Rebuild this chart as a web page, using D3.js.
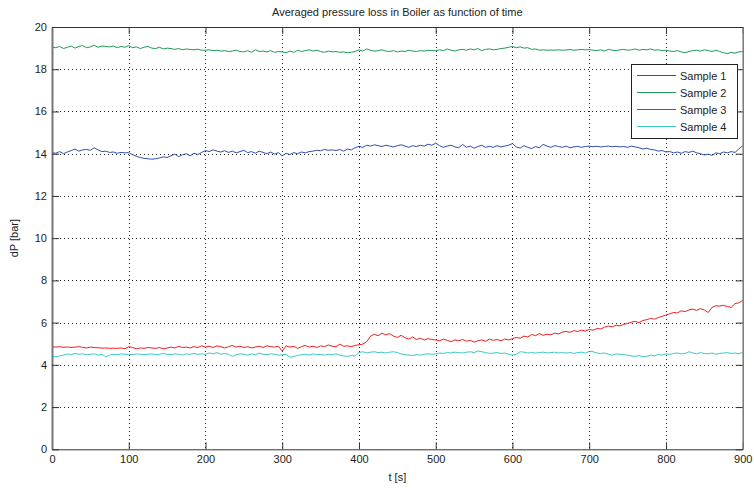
<!DOCTYPE html>
<html><head><meta charset="utf-8">
<script src="https://cdn.jsdelivr.net/npm/d3@7"></script>
<style>body{margin:0;background:#fff}svg{display:block}text{font-family:"Liberation Sans",Arial,sans-serif}</style>
</head><body>
<svg id="c" width="754" height="488"></svg>
<script>
const title = "Averaged pressure loss in Boiler as function of time";
const xLabel = "t [s]";
const yLabel = "dP [bar]";
const xTicks = [0,100,200,300,400,500,600,700,800,900];
const yTicks = [0,2,4,6,8,10,12,14,16,18,20];
const seriesNames = ["Sample 1","Sample 2","Sample 3","Sample 4"];
const timeStep = 5; // seconds between samples, t = 0..900
const sample1 = [14.05,14.02,14.10,14.00,14.08,14.15,14.22,14.12,14.18,14.20,14.16,14.28,14.18,14.10,14.12,14.06,14.08,14.02,14.06,14.04,
14.05,13.95,13.88,13.82,13.78,13.76,13.74,13.76,13.80,13.85,13.82,13.90,13.98,13.86,13.95,14.00,13.90,14.02,13.96,14.06,
14.15,14.10,14.18,14.12,14.08,14.14,14.06,14.12,14.04,14.10,14.16,14.05,14.10,14.02,14.12,14.06,14.00,14.08,13.98,14.05,
13.90,14.02,13.96,14.05,14.00,14.08,14.04,14.10,14.12,14.16,14.14,14.20,14.16,14.18,14.15,14.20,14.12,14.22,14.18,14.28,
14.35,14.30,14.40,14.36,14.42,14.38,14.34,14.40,14.36,14.32,14.38,14.42,14.36,14.30,14.38,14.34,14.40,14.36,14.45,14.40,
14.50,14.38,14.30,14.36,14.40,14.32,14.28,14.44,14.30,14.36,14.26,14.34,14.40,14.30,14.35,14.30,14.38,14.32,14.36,14.40,
14.48,14.32,14.26,14.38,14.30,14.24,14.34,14.28,14.44,14.36,14.30,14.38,14.34,14.30,14.36,14.28,14.32,14.35,14.30,14.34,
14.36,14.33,14.35,14.32,14.34,14.36,14.33,14.35,14.32,14.34,14.30,14.36,14.32,14.28,14.22,14.26,14.20,14.18,14.12,14.15,
14.08,14.10,14.04,14.08,14.02,14.10,14.06,14.12,14.04,14.00,13.94,13.98,13.92,14.04,14.00,14.08,14.04,14.10,14.06,14.22,14.38];
const sample2 = [19.05,19.02,19.08,18.98,19.04,19.10,19.00,19.08,19.12,19.02,19.06,19.14,19.04,19.10,19.08,19.06,19.10,19.02,19.08,19.04,
19.12,19.02,19.06,18.98,19.04,19.08,19.00,18.98,19.04,18.96,19.00,18.98,18.94,18.98,18.92,18.96,18.94,18.92,18.95,18.90,
18.90,18.92,18.88,18.90,18.86,18.88,18.84,18.86,18.90,18.84,18.82,18.88,18.80,18.92,18.84,18.86,18.82,18.88,18.80,18.84,
18.82,18.78,18.86,18.80,18.90,18.84,18.88,18.92,18.86,18.90,18.84,18.80,18.86,18.82,18.84,18.80,18.82,18.78,18.80,18.84,
18.92,18.86,18.96,18.90,18.86,18.88,18.92,18.86,18.84,18.88,18.82,18.86,18.84,18.90,18.86,18.84,18.88,18.86,18.90,18.88,
18.88,18.92,18.88,18.96,18.90,18.86,18.92,18.94,18.90,18.96,18.92,18.98,18.88,18.94,18.96,18.92,18.94,18.98,19.00,19.04,
19.08,19.02,19.06,19.00,19.02,18.94,18.96,18.90,18.92,18.90,18.91,18.90,18.92,18.90,18.91,18.93,18.90,18.92,18.94,18.92,
18.93,18.90,18.88,18.92,18.86,18.94,18.90,18.88,18.92,18.94,18.90,18.92,18.96,18.90,18.94,18.92,18.96,18.90,18.92,18.88,
18.90,18.86,18.84,18.88,18.82,18.78,18.84,18.88,18.90,18.86,18.92,18.88,18.84,18.90,18.84,18.78,18.74,18.80,18.76,18.82,18.84];
const sample3 = [4.85,4.84,4.86,4.83,4.85,4.82,4.84,4.86,4.83,4.80,4.84,4.82,4.81,4.79,4.80,4.78,4.79,4.78,4.80,4.76,
4.86,4.82,4.76,4.80,4.78,4.82,4.80,4.78,4.82,4.76,4.80,4.84,4.80,4.88,4.82,4.84,4.80,4.86,4.82,4.90,
4.84,4.88,4.82,4.90,4.86,4.80,4.86,4.92,4.84,4.88,4.82,4.86,4.80,4.84,4.88,4.82,4.90,4.86,4.84,4.88,
4.65,4.90,4.84,4.88,4.78,4.86,4.92,4.84,4.88,4.82,4.90,4.86,4.94,4.88,4.86,4.98,4.88,4.90,4.86,4.92,
4.95,4.98,5.10,5.35,5.45,5.38,5.50,5.42,5.48,5.36,5.30,5.40,5.28,5.22,5.32,5.20,5.26,5.18,5.24,5.20,
5.18,5.14,5.22,5.16,5.10,5.18,5.14,5.20,5.12,5.16,5.08,5.14,5.18,5.12,5.22,5.16,5.20,5.14,5.22,5.18,
5.24,5.30,5.26,5.36,5.32,5.44,5.38,5.48,5.40,5.45,5.42,5.50,5.46,5.55,5.58,5.54,5.62,5.58,5.64,5.60,
5.68,5.64,5.72,5.70,5.78,5.84,5.80,5.88,5.84,5.92,5.96,6.02,6.06,6.00,6.10,6.14,6.20,6.16,6.24,6.30,
6.36,6.42,6.48,6.46,6.56,6.52,6.60,6.64,6.58,6.66,6.60,6.48,6.72,6.80,6.78,6.82,6.76,6.72,6.90,6.94,7.05];
const sample4 = [4.40,4.38,4.42,4.46,4.52,4.48,4.54,4.50,4.52,4.48,4.50,4.52,4.46,4.50,4.38,4.46,4.50,4.48,4.52,4.50,
4.50,4.48,4.52,4.50,4.48,4.50,4.52,4.48,4.50,4.54,4.50,4.48,4.52,4.50,4.46,4.52,4.50,4.54,4.50,4.52,
4.50,4.56,4.52,4.58,4.50,4.54,4.50,4.40,4.48,4.52,4.50,4.46,4.52,4.48,4.56,4.50,4.48,4.52,4.50,4.46,
4.48,4.50,4.36,4.40,4.44,4.48,4.50,4.46,4.52,4.48,4.50,4.46,4.50,4.48,4.52,4.46,4.42,4.40,4.44,4.42,
4.58,4.62,4.56,4.60,4.62,4.58,4.60,4.56,4.60,4.62,4.58,4.52,4.48,4.46,4.44,4.48,4.46,4.50,4.52,4.50,
4.52,4.56,4.54,4.58,4.56,4.60,4.58,4.56,4.60,4.62,4.58,4.66,4.62,4.58,4.54,4.56,4.58,4.54,4.56,4.50,
4.46,4.50,4.62,4.60,4.56,4.58,4.56,4.58,4.60,4.56,4.58,4.60,4.56,4.58,4.56,4.58,4.54,4.58,4.60,4.56,
4.64,4.62,4.56,4.54,4.56,4.50,4.46,4.52,4.50,4.48,4.46,4.42,4.40,4.44,4.38,4.40,4.46,4.42,4.50,4.46,
4.52,4.50,4.54,4.56,4.52,4.54,4.62,4.56,4.52,4.58,4.54,4.52,4.56,4.50,4.54,4.56,4.58,4.54,4.56,4.52,4.60];
const colors = ["#2e4fb0","#1f9a55","#f01e1e","#3cc8c8"];

const svg = d3.select("#c");
const L = 52, R = 742.7, T = 27, B = 449.3;
const x = d3.scaleLinear().domain([0,900]).range([L,R]);
const y = d3.scaleLinear().domain([0,20]).range([B,T]);

// grid
const grid = svg.append("g").attr("stroke","#222").attr("stroke-width",1).attr("stroke-dasharray","1,3");
xTicks.slice(1,-1).forEach(t=>grid.append("line").attr("x1",Math.round(x(t))+0.5).attr("x2",Math.round(x(t))+0.5).attr("y1",T).attr("y2",B));
yTicks.slice(1,-1).forEach(t=>grid.append("line").attr("y1",Math.round(y(t))+0.5).attr("y2",Math.round(y(t))+0.5).attr("x1",L).attr("x2",R));

// series
const data = [sample1,sample2,sample3,sample4];
const line = d3.line().x((d,i)=>x(i*timeStep)).y(d=>y(d));
data.forEach((s,i)=>svg.append("path").datum(s).attr("d",line).attr("fill","none").attr("stroke",colors[i]).attr("stroke-width",1));

// axes
const ax = svg.append("g").attr("font-size",11).attr("fill","#222");
const xb = d3.axisBottom(x).tickValues(xTicks).tickSizeInner(-7).tickSizeOuter(0).tickPadding(6);
const xt = d3.axisTop(x).tickValues(xTicks).tickSizeInner(-7).tickSizeOuter(0).tickFormat("");
const yl = d3.axisLeft(y).tickValues(yTicks).tickSizeInner(-7).tickSizeOuter(0).tickPadding(5);
const yr = d3.axisRight(y).tickValues(yTicks).tickSizeInner(-7).tickSizeOuter(0).tickFormat("");
function style(g){g.selectAll("path").attr("stroke","#333");g.selectAll("line").attr("stroke","#333");g.selectAll("text").attr("fill","#222").attr("font-size",11).attr("font-family","Liberation Sans, Arial, sans-serif");}
svg.append("g").attr("transform",`translate(0,${B})`).call(xb).call(style);
svg.append("g").attr("transform",`translate(0,${T})`).call(xt).call(style);
svg.append("g").attr("transform",`translate(${L},0)`).call(yl).call(style).select(".domain").attr("stroke","#777").attr("stroke-width",2);
svg.append("g").attr("transform",`translate(${R},0)`).call(yr).call(style).select(".domain").attr("stroke","#777").attr("stroke-width",1.5);

// labels
svg.append("text").attr("x",(L+R)/2).attr("y",16).attr("text-anchor","middle").attr("font-size",11).attr("fill","#222").text(title);
svg.append("text").attr("x",(L+R)/2).attr("y",481).attr("text-anchor","middle").attr("font-size",11).attr("fill","#222").text(xLabel);
svg.append("text").attr("transform",`translate(18,${(T+B)/2}) rotate(-90)`).attr("text-anchor","middle").attr("font-size",11).attr("fill","#222").text(yLabel);

// legend
const lg = svg.append("g");
lg.append("rect").attr("x",631.5).attr("y",64.5).attr("width",106).attr("height",74).attr("fill","#fff").attr("stroke","#222");
seriesNames.forEach((n,i)=>{
  const yy = 75.5 + i*17;
  lg.append("line").attr("x1",637).attr("x2",676).attr("y1",yy).attr("y2",yy).attr("stroke",colors[i]).attr("stroke-width",1);
  lg.append("text").attr("x",680).attr("y",yy+4).attr("font-size",11).attr("fill","#222").text(n);
});
</script>
</body></html>
